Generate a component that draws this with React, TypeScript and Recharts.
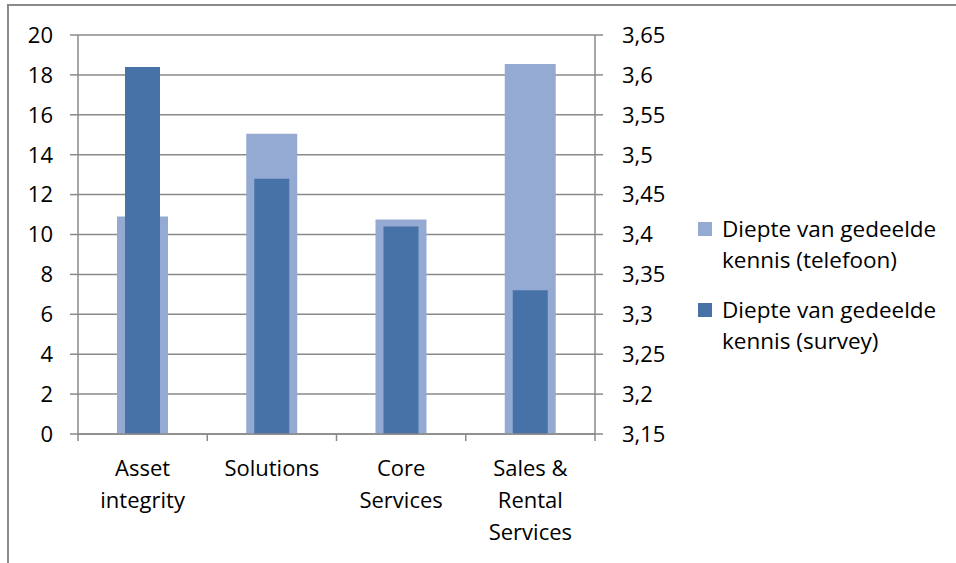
import React from "react"
import { BarChart, Bar, XAxis, YAxis, CartesianGrid } from "recharts"

const categories = ["Asset integrity", "Solutions", "Core Services", "Sales & Rental Services"]
const telefoon = [10.9, 15.05, 10.75, 18.55]
const survey = [3.61, 3.47, 3.41, 3.33]
const seriesNames = ["Diepte van gedeelde kennis (telefoon)", "Diepte van gedeelde kennis (survey)"]
const leftTicks = [0, 2, 4, 6, 8, 10, 12, 14, 16, 18, 20]
const rightTicks = [3.15, 3.2, 3.25, 3.3, 3.35, 3.4, 3.45, 3.5, 3.55, 3.6, 3.65]

const data = categories.map((name, i) => ({ name, telefoon: telefoon[i], survey: survey[i] }))

const W = 956
const H = 563
const FONT = "'Open Sans', sans-serif"
const GRID = "#8a8a8a"
const LIGHT = "#94aad2"
const DARK = "#4672a8"
const LEFT_W = 78
const RIGHT_W = 361
const BAND = (W - LEFT_W - RIGHT_W) / categories.length

// greedy word wrap, roughly how Excel breaks the category names
function wrap(text: string, max: number) {
  const out: string[] = []
  let cur = ""
  for (const w of text.split(" ")) {
    const next = cur ? cur + " " + w : w
    if (next.length > max && cur) {
      out.push(cur)
      cur = w
    } else cur = next
  }
  if (cur) out.push(cur)
  return out
}

function CategoryTick(props: any) {
  const { x, y, payload, index } = props
  const lines = wrap(String(payload.value), 9)
  return (
    <g>
      <line x1={x - BAND / 2} x2={x - BAND / 2} y1={y} y2={y + 7} stroke={GRID} strokeWidth={1.5} />
      {index === categories.length - 1 && (
        <line x1={x + BAND / 2} x2={x + BAND / 2} y1={y} y2={y + 7} stroke={GRID} strokeWidth={1.5} />
      )}
      <text textAnchor="middle" fill="#000" fontSize={22} fontFamily={FONT}>
        {lines.map((l, i) => (
          <tspan key={i} x={x} y={y + 42 + i * 32}>{l}</tspan>
        ))}
      </text>
    </g>
  )
}

function LegendBox() {
  const colors = [LIGHT, DARK]
  return (
    <div style={{ position: "absolute", left: 698, top: 213, fontFamily: FONT, fontSize: 22.5, lineHeight: "31px", color: "#000" }}>
      {seriesNames.map((name, i) => (
        <div key={name} style={{ display: "flex", alignItems: "flex-start", marginBottom: 19 }}>
          <div style={{ width: 14, height: 14, background: colors[i], marginTop: 9, marginRight: 10, flex: "none" }} />
          <div style={{ width: 236 }}>{name}</div>
        </div>
      ))}
    </div>
  )
}

const fmt = (v: number) => String(Number(v.toFixed(2))).replace(".", ",")

export default function App() {
  return (
    <div style={{ position: "absolute", left: 0, top: 0, width: W, height: H, background: "#fff", overflow: "hidden" }}>
      <div style={{ position: "absolute", left: 7, top: 4, width: W, height: H, borderTop: `2px solid ${GRID}`, borderLeft: `2px solid ${GRID}` }} />
      <div style={{ position: "absolute", left: 0, top: 0 }}>
        <BarChart width={W} height={H} data={data} margin={{ top: 35, right: 0, left: 0, bottom: 0 }}>
          <CartesianGrid horizontal vertical={false} yAxisId="left" stroke={GRID} strokeWidth={1.5} />
          <XAxis xAxisId="main" dataKey="name" height={129} tickSize={0} tickMargin={0} interval={0}
            axisLine={{ stroke: GRID, strokeWidth: 1.5 }} tick={<CategoryTick />} />
          <XAxis xAxisId="over" dataKey="name" hide />
          <YAxis yAxisId="left" domain={[0, 20]} ticks={leftTicks} width={LEFT_W} tickSize={8} tickMargin={17}
            axisLine={{ stroke: GRID, strokeWidth: 1.5 }} tickLine={{ stroke: GRID, strokeWidth: 1.5 }}
            tick={{ fill: "#000", fontSize: 22, fontFamily: FONT }} interval={0} />
          <YAxis yAxisId="right" orientation="right" domain={[3.15, 3.65]} ticks={rightTicks} width={RIGHT_W}
            tickSize={8} tickMargin={19} tickFormatter={fmt} allowDataOverflow
            axisLine={{ stroke: GRID, strokeWidth: 1.5 }} tickLine={{ stroke: GRID, strokeWidth: 1.5 }}
            tick={{ fill: "#000", fontSize: 22, fontFamily: FONT, textAnchor: "start" }} interval={0} />
          <Bar xAxisId="main" yAxisId="left" dataKey="telefoon" name={seriesNames[0]} fill={LIGHT} barSize={51} isAnimationActive={false} />
          <Bar xAxisId="over" yAxisId="right" dataKey="survey" name={seriesNames[1]} fill={DARK} barSize={35} isAnimationActive={false} />
        </BarChart>
      </div>
      <LegendBox />
    </div>
  )
}
